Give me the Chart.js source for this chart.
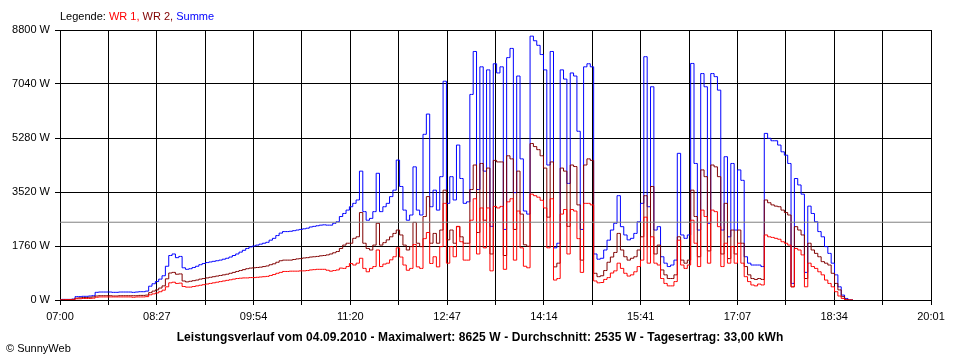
<!DOCTYPE html>
<html>
<head>
<meta charset="utf-8">
<title>Leistungsverlauf 04.09.2010</title>
<script src="https://cdn.jsdelivr.net/npm/chart.js@4"></script>
<style>
  body { margin: 0; background: #fff; }
  #wrap { position: relative; width: 960px; height: 360px; font-family: "Liberation Sans", Arial, sans-serif; font-size: 11px; color: #000; }
  #chart { position: absolute; left: 0; top: 0; }
  #legend { position: absolute; left: 60px; top: 10px; white-space: nowrap; }
  #caption { position: absolute; left: 0; width: 960px; top: 330px; text-align: center; font-weight: bold; font-size: 12px; letter-spacing: 0.1px; white-space: nowrap; }
  #copy { position: absolute; left: 6px; top: 342px; white-space: nowrap; }
</style>
</head>
<body>
<div id="wrap">
  <canvas id="chart" width="960" height="360"></canvas>
  <div id="legend">Legende: <span style="color:#ff0000">WR 1,</span> <span style="color:#800000">WR 2,</span> <span style="color:#0000ff">Summe</span></div>
  <div id="caption">Leistungsverlauf vom 04.09.2010 - Maximalwert: 8625 W - Durchschnitt: 2535 W - Tagesertrag: 33,00 kWh</div>
  <div id="copy">&copy; SunnyWeb</div>
</div>
<script>
// one value every 3 minutes, starting at 07:00
const stepMinutes = 3;
const xTickLabels = ["07:00", "08:27", "09:54", "11:20", "12:47", "14:14", "15:41", "17:07", "18:34", "20:01"];
const average = 2535;

const summe = [
  0, 20, 20, 20, 30, 110, 110, 120, 120, 130,
  140, 250, 260, 260, 260, 260, 250, 250, 260, 260,
  260, 260, 250, 260, 270, 270, 290, 450, 530, 600,
  680, 790, 1100, 1450, 1500, 1380, 1420, 1050, 1000, 1020,
  1060, 1100, 1150, 1190, 1220, 1240, 1260, 1280, 1300, 1330,
  1360, 1400, 1450, 1500, 1560, 1620, 1680, 1730, 1760, 1790,
  1820, 1850, 1880, 1950, 2010, 2100, 2180, 2230, 2230, 2240,
  2260, 2280, 2300, 2320, 2340, 2380, 2400, 2420, 2440, 2450,
  2440, 2440, 2500, 2550, 2720, 2820, 2930, 3040, 3150, 3260,
  4200, 2880, 2600, 2660, 2880, 4130, 2880, 3040, 3150, 3370,
  3580, 4560, 3700, 2930, 2600, 2770, 4340, 2930, 2770, 5400,
  6060, 3040, 3580, 2930, 4020, 7130, 3150, 4020, 3260, 5050,
  3960, 3150, 3200, 6700, 8100, 3600, 7600, 4200, 7500, 2400,
  7700, 7400, 7600, 2300, 7900, 8200, 3500, 7300, 4600, 2900,
  2800, 8600, 8450, 8300, 8000, 7500, 4400, 8100, 1700, 1850,
  7500, 7200, 3800, 7400, 7300, 5500, 2300, 7600, 7700, 7600,
  1500, 1330, 1360, 1630, 1950, 2280, 2500, 3400, 2390, 2120,
  1960, 2010, 2170, 2550, 3150, 7930, 3040, 6950, 2280, 2390,
  1410, 1200, 1090, 1140, 1300, 4780, 2120, 2010, 2120, 7710,
  4450, 2280, 7380, 6950, 2500, 7380, 7280, 6840, 2280, 4670,
  2060, 4450, 2280, 4240, 3900, 1410, 1200, 1140, 1140, 1140,
  1090, 5430, 5270, 5190, 5190, 5050, 4830, 4720, 4450, 540,
  3960, 3750, 3450, 900, 3060, 2820, 2550, 2230, 2060, 1740,
  1520, 1200, 820, 430, 160, 50, 0, 0
];

const wr2 = [
  0, 10, 10, 10, 20, 60, 70, 80, 80, 90,
  100, 130, 140, 140, 140, 140, 130, 130, 140, 140,
  140, 140, 140, 140, 150, 150, 160, 240, 290, 330,
  390, 460, 690, 880, 900, 840, 850, 620, 590, 610,
  630, 650, 680, 700, 720, 740, 760, 780, 800, 820,
  840, 870, 900, 930, 960, 990, 1020, 1040, 1050, 1060,
  1070, 1090, 1110, 1150, 1180, 1230, 1280, 1300, 1300, 1300,
  1320, 1340, 1350, 1370, 1380, 1400, 1410, 1420, 1440, 1450,
  1470, 1500, 1540, 1580, 1680, 1790, 1850, 1850, 2010, 2060,
  2850, 1850, 1680, 1630, 1790, 2500, 1790, 1870, 1960, 2060,
  2170, 2280, 2120, 1790, 1630, 1740, 2530, 1850, 1740, 2720,
  3370, 1850, 2170, 1850, 2280, 3580, 1960, 2280, 1850, 2390,
  2060, 1850, 1850, 3600, 4400, 2200, 4450, 2600, 4300, 1500,
  4550, 4500, 4500, 1450, 4700, 4600, 2300, 4200, 2800, 1800,
  1750, 5100, 5000, 4900, 4700, 4300, 2700, 4500, 1080, 1200,
  4300, 4200, 2400, 4400, 4350, 3100, 1300, 4400, 4600, 4550,
  870, 760, 790, 960, 1230, 1400, 1550, 2170, 1630, 1410,
  1300, 1360, 1410, 1630, 2060, 3400, 1740, 3700, 1500, 1790,
  980, 820, 700, 700, 820, 2060, 1300, 1200, 1300, 3580,
  2720, 1410, 4240, 4020, 1600, 4400, 4340, 4020, 1500, 3150,
  1350, 2280, 1500, 2280, 1850, 1090, 820, 700, 670, 700,
  670, 3260, 3170, 3100, 3060, 3040, 2930, 2850, 2770, 430,
  2390, 2280, 2120, 700, 1850, 1630, 1520, 1410, 1250, 1200,
  1140, 870, 540, 330, 110, 20, 0, 0
];

const wr1 = [
  0, 0, 10, 10, 10, 40, 40, 50, 50, 50,
  60, 90, 100, 100, 100, 100, 100, 100, 100, 100,
  100, 100, 90, 100, 100, 100, 110, 170, 200, 230,
  270, 320, 430, 560, 580, 540, 550, 440, 420, 420,
  440, 460, 480, 500, 520, 540, 560, 580, 600, 620,
  640, 660, 680, 700, 710, 720, 720, 730, 730, 740,
  750, 760, 770, 800, 830, 870, 900, 930, 930, 940,
  940, 940, 950, 950, 960, 980, 990, 1000, 1000, 1000,
  970, 940, 960, 980, 1040, 1030, 1090, 1190, 1140, 1200,
  1360, 1030, 920, 1030, 1090, 1630, 1090, 1170, 1200, 1310,
  1410, 1700, 1400, 1140, 970, 1030, 1810, 1080, 1030, 2000,
  2200, 1190, 1410, 1080, 1740, 3150, 1200, 1740, 1410, 2400,
  1900, 1300, 1300, 2600, 3300, 1500, 3000, 1700, 3000, 950,
  3050, 3000, 3050, 1000, 3200, 3300, 1300, 2900, 1700, 1100,
  1050, 3450, 3400, 3350, 3250, 3000, 1700, 3300, 650, 700,
  2800, 2950, 1500, 2950, 2900, 2000, 900, 3150, 3150, 3100,
  620, 560, 570, 670, 730, 880, 950, 1200, 1030, 870,
  780, 820, 920, 1090, 1300, 2700, 1200, 2060, 1200, 1140,
  700, 540, 460, 460, 600, 1950, 1140, 1030, 1140, 2600,
  1850, 1090, 2930, 2720, 1200, 2930, 2880, 2390, 1090, 1850,
  1200, 1740, 1200, 1850, 1200, 760, 600, 490, 460, 520,
  490, 2120, 2060, 2040, 2010, 1980, 1900, 1850, 1790, 430,
  1680, 1630, 1470, 430, 1200, 1090, 1030, 920, 820, 650,
  540, 430, 270, 130, 50, 0, 0, 0
];

const xMax = 781;       // 07:00 .. 20:01
const xDivisions = 18;  // grid lines, labels on every second one

function toPoints(values) {
  return values.map(function (v, i) {
    return { x: i * stepMinutes, y: v };
  });
}

function seriesStyle(color) {
  return {
    borderColor: color,
    borderWidth: 1,
    pointRadius: 0,
    stepped: "middle",
    fill: false
  };
}

const axisFont = { family: "'Liberation Sans', Arial, sans-serif", size: 11 };

new Chart(document.getElementById("chart"), {
  type: "line",
  data: {
    datasets: [
      Object.assign({ label: "Durchschnitt", data: [{ x: 0, y: average }, { x: xMax, y: average }] }, seriesStyle("#808080"), { stepped: false }),
      Object.assign({ label: "WR 1", data: toPoints(wr1) }, seriesStyle("#ff0000")),
      Object.assign({ label: "WR 2", data: toPoints(wr2) }, seriesStyle("#800000")),
      Object.assign({ label: "Summe", data: toPoints(summe) }, seriesStyle("#0000ff"))
    ]
  },
  options: {
    responsive: false,
    animation: false,
    devicePixelRatio: 1,
    layout: { padding: { top: 30, right: 29, left: 0, bottom: 0 } },
    plugins: {
      legend: { display: false },
      tooltip: { enabled: false }
    },
    scales: {
      x: {
        type: "linear",
        min: 0,
        max: xMax,
        afterBuildTicks: function (scale) {
          const ticks = [];
          for (let i = 0; i <= xDivisions; i++) ticks.push({ value: i * xMax / xDivisions });
          scale.ticks = ticks;
        },
        afterFit: function (scale) { scale.height = 60; },
        grid: { color: "#000", lineWidth: 1, tickLength: 5 },
        border: { color: "#000", width: 1 },
        ticks: {
          autoSkip: false,
          maxRotation: 0,
          padding: 5,
          color: "#000",
          font: axisFont,
          callback: function (value, index) {
            return index % 2 === 0 ? xTickLabels[index / 2] : "";
          }
        }
      },
      y: {
        min: 0,
        max: 8800,
        afterFit: function (scale) { scale.width = 60; },
        grid: { color: "#000", lineWidth: 1, tickLength: 5 },
        border: { color: "#000", width: 1 },
        ticks: {
          stepSize: 1760,
          padding: 5,
          color: "#000",
          font: axisFont,
          callback: function (value) { return value + " W"; }
        }
      }
    }
  }
});
</script>
</body>
</html>
